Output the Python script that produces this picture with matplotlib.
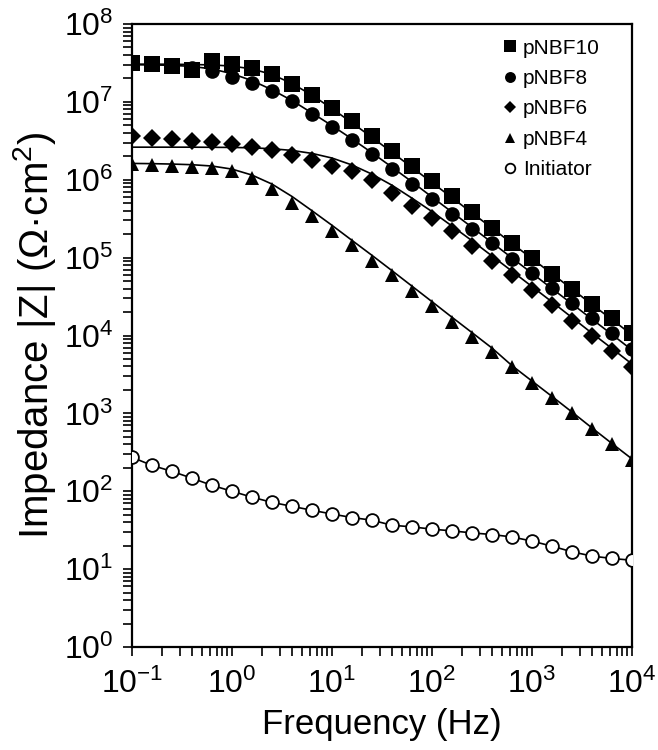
import matplotlib
matplotlib.use("Agg")
import matplotlib.pyplot as plt
from matplotlib.ticker import LogLocator, NullFormatter

plt.rcParams['font.family'] = ['Liberation Sans', 'DejaVu Sans']
plt.rcParams['mathtext.default'] = 'regular'
plt.rcParams['axes.unicode_minus'] = False

# frequencies (Hz), 5 points per decade
freq = [0.1, 0.158, 0.251, 0.398, 0.631, 1.0, 1.58, 2.51, 3.98, 6.31,
        10, 15.8, 25.1, 39.8, 63.1, 100, 158, 251, 398, 631,
        1000, 1585, 2512, 3981, 6310, 10000]

# measured |Z| (ohm cm2)
z_nbf10 = [3.2e7, 3.1e7, 2.9e7, 2.6e7, 3.3e7, 3.05e7, 2.7e7, 2.27e7, 1.69e7, 1.23e7,
           8.4e6, 5.7e6, 3.7e6, 2.35e6, 1.5e6, 9.7e5, 6.2e5, 3.8e5, 2.4e5, 1.56e5,
           1.0e5, 6.2e4, 4.0e4, 2.57e4, 1.66e4, 1.07e4]
z_nbf8 = [3.2e7, 3.1e7, 2.95e7, 2.75e7, 2.5e7, 2.1e7, 1.77e7, 1.38e7, 1.03e7, 7.0e6,
          4.8e6, 3.25e6, 2.15e6, 1.38e6, 8.9e5, 5.7e5, 3.66e5, 2.34e5, 1.55e5, 9.7e4,
          6.4e4, 4.1e4, 2.65e4, 1.7e4, 1.07e4, 6.8e3]
z_nbf6 = [3.66e6, 3.43e6, 3.32e6, 3.16e6, 3.07e6, 2.87e6, 2.6e6, 2.4e6, 2.09e6, 1.78e6,
          1.5e6, 1.28e6, 1.0e6, 6.8e5, 4.64e5, 3.24e5, 2.22e5, 1.43e5, 9.1e4, 5.9e4,
          3.8e4, 2.43e4, 1.55e4, 1.0e4, 6.4e3, 3.9e3]
z_nbf4 = [1.59e6, 1.55e6, 1.51e6, 1.47e6, 1.41e6, 1.28e6, 1.05e6, 7.6e5, 5.1e5, 3.46e5,
          2.2e5, 1.47e5, 9.1e4, 5.9e4, 3.78e4, 2.39e4, 1.51e4, 9.7e3, 6.2e3, 3.9e3,
          2.46e3, 1.59e3, 1.0e3, 6.3e2, 4.0e2, 2.5e2]
z_init = [273, 215, 180, 147, 119, 100, 84, 72, 64, 57,
          51, 46, 42.5, 36.6, 34.9, 32.6, 31.0, 29.2, 27.8, 25.9,
          22.9, 19.7, 16.7, 14.7, 13.7, 13.0]

# fitted curves
fit_nbf10 = [3.05e7, 3.05e7, 3.04e7, 3.02e7, 2.98e7, 2.88e7, 2.65e7, 2.25e7, 1.72e7, 1.22e7,
             8.2e6, 5.4e6, 3.5e6, 2.25e6, 1.44e6, 9.2e5, 5.9e5, 3.75e5, 2.4e5, 1.52e5,
             9.7e4, 6.2e4, 3.95e4, 2.5e4, 1.6e4, 1.02e4]
fit_nbf8 = [3.0e7, 2.98e7, 2.95e7, 2.85e7, 2.65e7, 2.3e7, 1.88e7, 1.43e7, 1.04e7, 7.2e6,
            4.95e6, 3.35e6, 2.22e6, 1.45e6, 9.4e5, 6.0e5, 3.85e5, 2.45e5, 1.56e5, 9.9e4,
            6.3e4, 4.0e4, 2.55e4, 1.62e4, 1.03e4, 6.5e3]
fit_nbf6 = [2.62e6, 2.62e6, 2.62e6, 2.62e6, 2.61e6, 2.6e6, 2.57e6, 2.5e6, 2.38e6, 2.18e6,
            1.9e6, 1.55e6, 1.18e6, 8.5e5, 5.8e5, 3.9e5, 2.55e5, 1.65e5, 1.05e5, 6.7e4,
            4.25e4, 2.7e4, 1.7e4, 1.07e4, 6.8e3, 4.3e3]
fit_nbf4 = [1.62e6, 1.61e6, 1.59e6, 1.56e6, 1.5e6, 1.37e6, 1.15e6, 8.8e5, 6.1e5, 4.0e5,
            2.6e5, 1.67e5, 1.07e5, 6.8e4, 4.3e4, 2.72e4, 1.72e4, 1.09e4, 6.9e3, 4.1e3,
            2.6e3, 1.65e3, 1.04e3, 6.5e2, 4.1e2, 2.6e2]
fit_init = z_init

labels = ['pNBF10', 'pNBF8', 'pNBF6', 'pNBF4', 'Initiator']

fig = plt.figure(figsize=(6.58, 7.5), dpi=100)
ax = fig.add_axes([132/658, 103/750, 500/658, 623/750])

# fit lines
for f in [fit_init, fit_nbf4, fit_nbf6, fit_nbf8, fit_nbf10]:
    ax.plot(freq, f, color='black', lw=1.2, zorder=2)

# data markers
ax.plot(freq, z_init, ls='none', marker='o', ms=9.2, mfc='white', mec='black',
        mew=1.3, zorder=3, label='Initiator')
ax.plot(freq, z_nbf4, ls='none', marker='^', ms=10.5, mew=0, color='black', zorder=4, label='pNBF4')
ax.plot(freq, z_nbf6, ls='none', marker='D', ms=8.8, mew=0, color='black', zorder=5, label='pNBF6')
ax.plot(freq, z_nbf8, ls='none', marker='o', ms=10.5, mew=0, color='black', zorder=6, label='pNBF8')
ax.plot(freq, z_nbf10, ls='none', marker='s', ms=11.5, mew=0, color='black', zorder=7, label='pNBF10')

ax.set_xscale('log')
ax.set_yscale('log')
ax.set_xlim(0.1, 1e4)
ax.set_ylim(1, 1e8)

ax.xaxis.set_major_locator(LogLocator(base=10, numticks=10))
ax.yaxis.set_major_locator(LogLocator(base=10, numticks=12))
ax.xaxis.set_minor_locator(LogLocator(base=10, subs=range(2, 10), numticks=20))
ax.yaxis.set_minor_locator(LogLocator(base=10, subs=range(2, 10), numticks=20))
ax.xaxis.set_minor_formatter(NullFormatter())
ax.yaxis.set_minor_formatter(NullFormatter())

for s in ax.spines.values():
    s.set_linewidth(1.6)
ax.tick_params(which='both', direction='out', width=1.2, length=6.5, labelsize=23)
ax.tick_params(axis='x', which='major', pad=9)
ax.tick_params(axis='y', which='major', pad=7)

ax.set_xlabel('Frequency (Hz)', fontsize=25, labelpad=6)
ax.set_ylabel('Impedance |Z| (\u03a9\u00b7cm$^{2}$)', fontsize=29, labelpad=4)

h, l = ax.get_legend_handles_labels()
order = [l.index(n) for n in labels]
ax.legend([h[i] for i in order], labels, loc='upper right', frameon=False,
          fontsize=15, markerscale=0.75, handlelength=0.7, handletextpad=0.3,
          labelspacing=0.55, borderaxespad=0.3, bbox_to_anchor=(0.965, 1.0))

fig.savefig('out.png', dpi=100)
